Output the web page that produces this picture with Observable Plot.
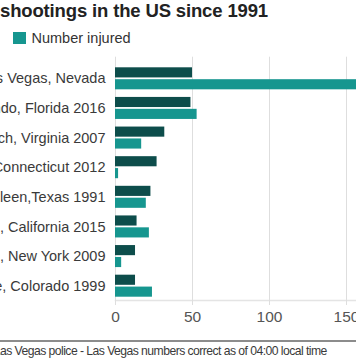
<!DOCTYPE html>
<html>
<head>
<meta charset="utf-8">
<script src="https://cdn.jsdelivr.net/npm/d3@7"></script>
<script src="https://cdn.jsdelivr.net/npm/@observablehq/plot@0.6"></script>
<style>
  html, body { margin: 0; padding: 0; background: #fff; }
  body { width: 356px; height: 364px; overflow: hidden; position: relative; font-family: "Liberation Sans", Arial, sans-serif; }
  .abs { position: absolute; white-space: nowrap; }
  #title { font-size: 18.5px; letter-spacing: -0.15px; font-weight: bold; color: #222; line-height: 18.5px; top: 1.6px; }
  #legend { top: 31px; left: 13px; font-size: 14.5px; line-height: 14.5px; color: #333; }
  .sw { display: inline-block; width: 12.5px; height: 12.5px; vertical-align: -1px; margin-right: 6px; }
  #killedItem { position: absolute; right: 100%; margin-right: 14px; white-space: nowrap; }
  #rule { top: 340.2px; left: 0; width: 356px; height: 1.6px; background: #8c8c8c; }
  #source { top: 345px; font-size: 12.2px; letter-spacing: -0.55px; line-height: 12.5px; color: #3a3a3a; }
  #chart { top: 50px; }
</style>
</head>
<body>
<div id="title" class="abs">Deadliest mass shootings in the US since 1991</div>
<div id="legend" class="abs"></div>
<div id="chart" class="abs"></div>
<div id="rule" class="abs"></div>
<div id="source" class="abs">Source: Las Vegas police - Las Vegas numbers correct as of 04:00 local time</div>
<script>
// ---- data ----
const places = [
  "Las Vegas, Nevada",
  "Orlando, Florida 2016",
  "Virginia Tech, Virginia 2007",
  "Newtown, Connecticut 2012",
  "Killeen,Texas 1991",
  "San Bernardino, California 2015",
  "Binghamton, New York 2009",
  "Columbine, Colorado 1999"
];
const killed  = [50, 49, 32, 27, 23, 14, 13, 13];
const injured = [200, 53, 17, 2, 20, 22, 4, 24];
const seriesNames = ["Number killed", "Number injured"];
const xTicks = [0, 50, 100, 150, 200];

const dark = "#0d4d4b";
const teal = "#16968f";

const data = places.map((p, i) => ({place: p, killed: killed[i], injured: injured[i]}));

// measure helper to position clipped text
const ctx = document.createElement("canvas").getContext("2d");
function w(text, font, ls) { ctx.font = font; return ctx.measureText(text).width + ls * text.length; }
const ff = '"Liberation Sans", Arial, sans-serif';
document.getElementById("title").style.left = (-w("Deadliest mass ", "bold 18.5px " + ff, -0.15)) + "px";
document.getElementById("source").style.left = (-w("Source: L", "12.2px " + ff, -0.55)) + "px";

// legend
const lg = document.getElementById("legend");
lg.innerHTML =
  `<span id="killedItem"><span class="sw" style="background:${dark}"></span>${seriesNames[0]}</span>` +
  `<span class="sw" style="background:${teal}"></span>${seriesNames[1]}`;

// chart
const L = -130;          // left offset of svg (page clips the long labels)
const x0 = 115 - L;      // svg x of zero
const pxPerUnit = 1.54;
const chartW = x0 + 200 * pxPerUnit + 20;
const chart = Plot.plot({
  width: chartW,
  height: 280,
  marginLeft: x0,
  marginRight: chartW - (x0 + 200 * pxPerUnit),
  marginTop: 6.7,
  marginBottom: 30,
  style: {maxWidth: "none", overflow: "visible", fontFamily: ff, background: "transparent"},
  x: {domain: [0, 200]},
  y: {domain: places, range: [17.3, 246.7], paddingInner: 0.257, paddingOuter: 0, round: false},
  marks: [
    Plot.gridX(xTicks, {stroke: "#dedede", strokeOpacity: 1, strokeWidth: 1}),
    Plot.frame({anchor: "bottom", stroke: "#e4e4e4", strokeWidth: 1.5}),
    Plot.barX(data, {x: "killed", y: "place", fill: dark, insetBottom: 11.9}),
    Plot.barX(data, {x: "injured", y: "place", fill: teal, insetTop: 11.9}),
    Plot.axisX(xTicks, {tickSize: 5, tickPadding: 5, stroke: "#dedede", fill: "#555", fontSize: 15.5, label: null}),
    Plot.axisY({tickSize: 0, tickPadding: 10, fill: "#3a3a3a", fontSize: 14.5, label: null})
  ]
});
const holder = document.getElementById("chart");
holder.style.left = L + "px";
holder.appendChild(chart);
</script>
</body>
</html>
